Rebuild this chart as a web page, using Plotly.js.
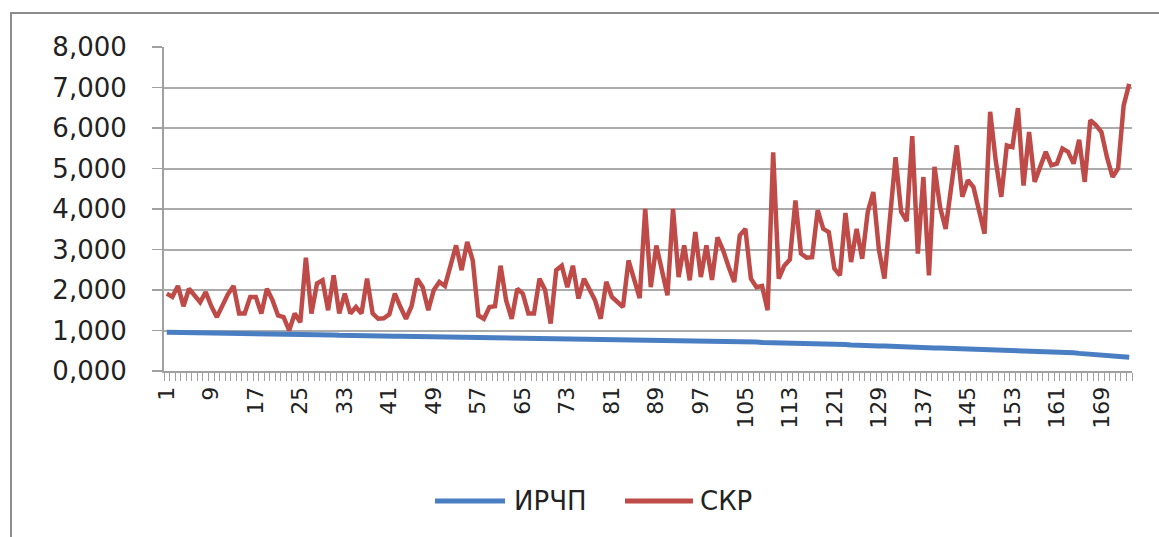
<!DOCTYPE html>
<html>
<head>
<meta charset="utf-8">
<script src="https://cdn.plot.ly/plotly-3.0.1.min.js"></script>
<style>
  html, body { margin: 0; padding: 0; background: #ffffff; }
  #wrap { position: relative; width: 1159px; height: 537px; overflow: hidden; }
  #chart { position: absolute; left: 0; top: 0; width: 1159px; height: 537px; }
  #frame { position: absolute; left: 10px; top: 12px; width: 1200px; height: 600px;
           border-left: 2px solid #8c8c8c; border-top: 2px solid #8c8c8c; pointer-events: none; }
</style>
</head>
<body>
<div id="wrap">
  <div id="chart"></div>
  <div id="frame"></div>
</div>
<script>
// Series names
const seriesNames = ["ИРЧП", "СКР"];
const seriesColors = ["#4A7EC2", "#BE4B48"];

// ИРЧП values (blue), one per category
const irchp = [
  0.955,0.953,0.952,0.951,0.950,0.950,0.949,0.948,
  0.947,0.946,0.946,0.945,0.944,0.943,0.942,0.941,
  0.940,0.939,0.938,0.937,0.936,0.935,0.930,0.915,
  0.905,0.900,0.898,0.896,0.895,0.893,0.890,0.880,
  0.875,0.873,0.871,0.870,0.868,0.866,0.865,0.864,
  0.863,0.861,0.860,0.858,0.857,0.856,0.855,0.853,
  0.852,0.851,0.850,0.849,0.848,0.847,0.846,0.845,
  0.830,0.815,0.812,0.810,0.808,0.807,0.806,0.805,
  0.804,0.803,0.802,0.801,0.800,0.799,0.798,0.797,
  0.796,0.795,0.794,0.793,0.785,0.775,0.772,0.770,
  0.769,0.768,0.767,0.766,0.765,0.764,0.763,0.762,
  0.761,0.760,0.752,0.745,0.743,0.742,0.741,0.740,
  0.739,0.738,0.737,0.736,0.735,0.734,0.733,0.732,
  0.731,0.730,0.715,0.705,0.703,0.702,0.701,0.700,
  0.699,0.698,0.697,0.696,0.690,0.680,0.675,0.672,
  0.670,0.668,0.655,0.640,0.630,0.625,0.622,0.620,
  0.618,0.616,0.614,0.612,0.600,0.590,0.585,0.582,
  0.580,0.575,0.570,0.565,0.560,0.558,0.556,0.554,
  0.552,0.550,0.548,0.546,0.544,0.540,0.530,0.525,
  0.522,0.520,0.518,0.510,0.495,0.485,0.480,0.478,
  0.476,0.474,0.465,0.450,0.435,0.425,0.418,0.414,
  0.410,0.405,0.395,0.385,0.370,0.340
];

// СКР values (red), one per category
const skr = [
  1.91,1.83,2.10,1.60,2.03,1.85,1.70,1.95,1.60,1.33,
  1.60,1.90,2.10,1.42,1.42,1.83,1.83,1.42,2.03,1.75,
  1.37,1.33,1.00,1.42,1.20,2.80,1.42,2.16,2.24,1.50,
  2.36,1.42,1.91,1.42,1.58,1.42,2.28,1.42,1.29,1.30,
  1.40,1.91,1.58,
  1.29,1.60,2.28,2.07,1.50,2.00,2.20,2.10,2.65,3.10,
  2.49,3.19,2.73,1.37,1.29,1.58,1.60,2.60,1.74,1.29,
  2.03,1.91,1.42,1.42,2.28,2.00,1.17,2.49,2.60,2.07,
  2.60,1.79,2.28,2.03,1.74,1.29,2.20,1.83,1.70,1.58,
  2.73,2.30,1.80,
  4.00,2.07,3.10,2.49,1.87,4.00,2.32,3.10,2.24,3.43,
  2.32,3.10,2.25,3.30,2.98,2.57,2.20,3.35,3.51,2.28,
  2.07,2.10,1.50,5.40,2.28,2.60,2.75,4.21,2.90,2.80,
  2.81,3.97,3.51,3.43,2.53,2.36,3.90,2.69,3.51,2.77,
  3.93,4.42,3.00,
  2.28,3.80,5.28,3.93,3.70,5.80,2.90,4.79,2.36,5.04,
  4.05,3.51,4.50,5.57,4.30,4.71,4.54,3.97,3.39,6.40,
  5.20,4.30,5.57,5.53,6.49,4.58,5.90,4.67,5.04,5.41,
  5.08,5.12,5.49,5.41,5.12,5.71,4.67,6.19,6.07,5.90,
  5.28,4.79,5.00,6.56,7.09
];

// Tick labels shown on the category axis
const xTickLabels = [1,9,17,25,33,41,49,57,65,73,81,89,97,105,113,121,129,137,145,153,161,169];
// Value-axis ticks
const yTicks = [0,1,2,3,4,5,6,7,8];

const categories = skr.map((_, i) => i + 1);

const font = "DejaVu Sans, Verdana, sans-serif";

const traces = [
  { x: categories, y: irchp, name: seriesNames[0], type: "scatter", mode: "lines",
    line: { color: seriesColors[0], width: 5 }, showlegend: false },
  { x: categories, y: skr, name: seriesNames[1], type: "scatter", mode: "lines",
    line: { color: seriesColors[1], width: 4.5 }, showlegend: false }
];

// Legend drawn below the plot (Excel-style long line samples)
const plotL = 164, plotW = 968, plotB = 371, plotH = 324;
const px = v => (v - plotL) / plotW;
const py = v => (plotB - v) / plotH;
const legendY = py(501);
const legendItems = [
  { x0: 435, x1: 505, tx: 512 },
  { x0: 625, x1: 693, tx: 698 }
];
const shapes = [];
const annotations = [];
legendItems.forEach((it, k) => {
  shapes.push({ type: "line", xref: "paper", yref: "paper",
    x0: px(it.x0), x1: px(it.x1), y0: legendY, y1: legendY,
    line: { color: seriesColors[k], width: 5 } });
  annotations.push({ xref: "paper", yref: "paper", x: px(it.tx), y: legendY,
    xanchor: "left", yanchor: "middle", showarrow: false, text: seriesNames[k],
    font: { family: font, size: 26, color: "#222" } });
});

const layout = {
  width: 1159, height: 537,
  margin: { l: 164, r: 27, t: 47, b: 166 },
  paper_bgcolor: "rgba(0,0,0,0)",
  plot_bgcolor: "#ffffff",
  separators: ",.",
  showlegend: false,
  shapes: shapes,
  annotations: annotations,
  xaxis: {
    range: [0.5, categories.length + 0.5],
    tickmode: "array", tickvals: xTickLabels, ticktext: xTickLabels.map(String),
    tickangle: -90, ticks: "", ticklen: 0,
    ticklabelstandoff: 5,
    tickfont: { family: font, size: 22, color: "#222" },
    showgrid: false, zeroline: false,
    showline: true, linecolor: "#a0a0a0", linewidth: 2,
    minor: { tickmode: "linear", tick0: 0.5, dtick: 1, ticks: "outside", ticklen: 8,
             tickcolor: "#a0a0a0", tickwidth: 1, showgrid: false },
    fixedrange: true
  },
  yaxis: {
    range: [0, 8],
    tickmode: "array", tickvals: yTicks,
    tickformat: ".3f",
    ticks: "outside", ticklen: 10, tickcolor: "#a0a0a0", tickwidth: 1.5,
    ticklabelstandoff: 20,
    tickfont: { family: font, size: 26, color: "#222" },
    showgrid: true, gridcolor: "#ababab", gridwidth: 2,
    zeroline: false,
    showline: true, linecolor: "#a0a0a0", linewidth: 2,
    fixedrange: true
  }
};

Plotly.newPlot("chart", traces, layout, { displayModeBar: false, staticPlot: true });
</script>
</body>
</html>
